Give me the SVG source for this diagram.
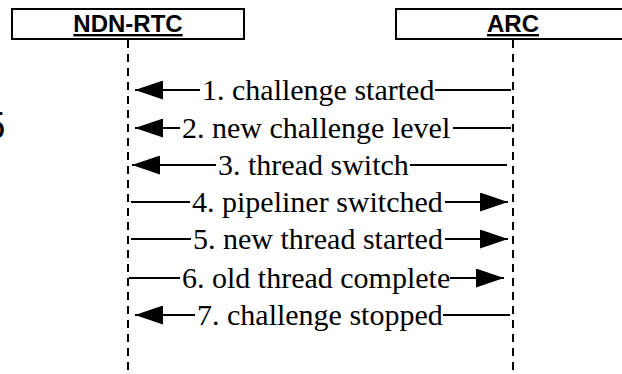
<svg xmlns="http://www.w3.org/2000/svg" width="622" height="374" viewBox="0 0 622 374">
<style>
.box{fill:#fff;stroke:#000;stroke-width:2}
.head{font-family:"Liberation Sans",Arial,sans-serif;font-weight:bold;font-size:24px;text-anchor:middle;text-decoration:underline}
.life{stroke:#000;stroke-width:2;stroke-dasharray:8 6;fill:none}
.msg{stroke:#000;stroke-width:2;fill:none}
.arr{marker-end:url(#ah)}
.lbl{font-family:"Liberation Serif","Times New Roman",serif;font-size:30px;fill:#000}
</style>
<defs>
<marker id="ah" markerWidth="28" markerHeight="19" refX="28" refY="9.5" orient="auto" markerUnits="userSpaceOnUse">
<path d="M0,0 L28,9.5 L0,19 Z" fill="#000"/>
</marker>
</defs>
<rect width="622" height="374" fill="#fff"/>
<text x="5.5" y="139" font-family="Liberation Sans,Arial,sans-serif" font-size="38" text-anchor="end">5</text>
<g id="ndn-rtc">
<rect class="box" x="12" y="9" width="232" height="30"/>
<text class="head" x="128" y="32">NDN-RTC</text>
<line class="life" x1="128" y1="40" x2="128" y2="374"/>
</g>
<g id="arc">
<rect class="box" x="396" y="9" width="240" height="30"/>
<text class="head" x="513" y="32">ARC</text>
<line class="life" x1="513" y1="40" x2="513" y2="374"/>
</g>
<g id="connectors">
<line class="msg arr" x1="200" y1="90" x2="135" y2="90"/>
<line class="msg" x1="435" y1="90" x2="511" y2="90"/>
<line class="msg arr" x1="180" y1="128" x2="135" y2="128"/>
<line class="msg" x1="453" y1="128" x2="511" y2="128"/>
<line class="msg arr" x1="216" y1="165" x2="132" y2="165"/>
<line class="msg" x1="410" y1="165" x2="507" y2="165"/>
<line class="msg" x1="131" y1="202" x2="190" y2="202"/>
<line class="msg arr" x1="445" y1="202" x2="508" y2="202"/>
<line class="msg" x1="131" y1="239" x2="191" y2="239"/>
<line class="msg arr" x1="445" y1="239" x2="508" y2="239"/>
<line class="msg" x1="129" y1="278" x2="180" y2="278"/>
<line class="msg arr" x1="450" y1="278" x2="504" y2="278"/>
<line class="msg arr" x1="195" y1="315" x2="135" y2="315"/>
<line class="msg" x1="443" y1="315" x2="510" y2="315"/>
</g>
<g id="labels">
<text class="lbl" x="202" y="100">1. challenge started</text>
<text class="lbl" x="182" y="138">2. new challenge level</text>
<text class="lbl" x="218" y="175">3. thread switch</text>
<text class="lbl" x="192" y="212">4. pipeliner switched</text>
<text class="lbl" x="193" y="249">5. new thread started</text>
<text class="lbl" x="182" y="288">6. old thread complete</text>
<text class="lbl" x="197" y="325">7. challenge stopped</text>
</g>
</svg>
